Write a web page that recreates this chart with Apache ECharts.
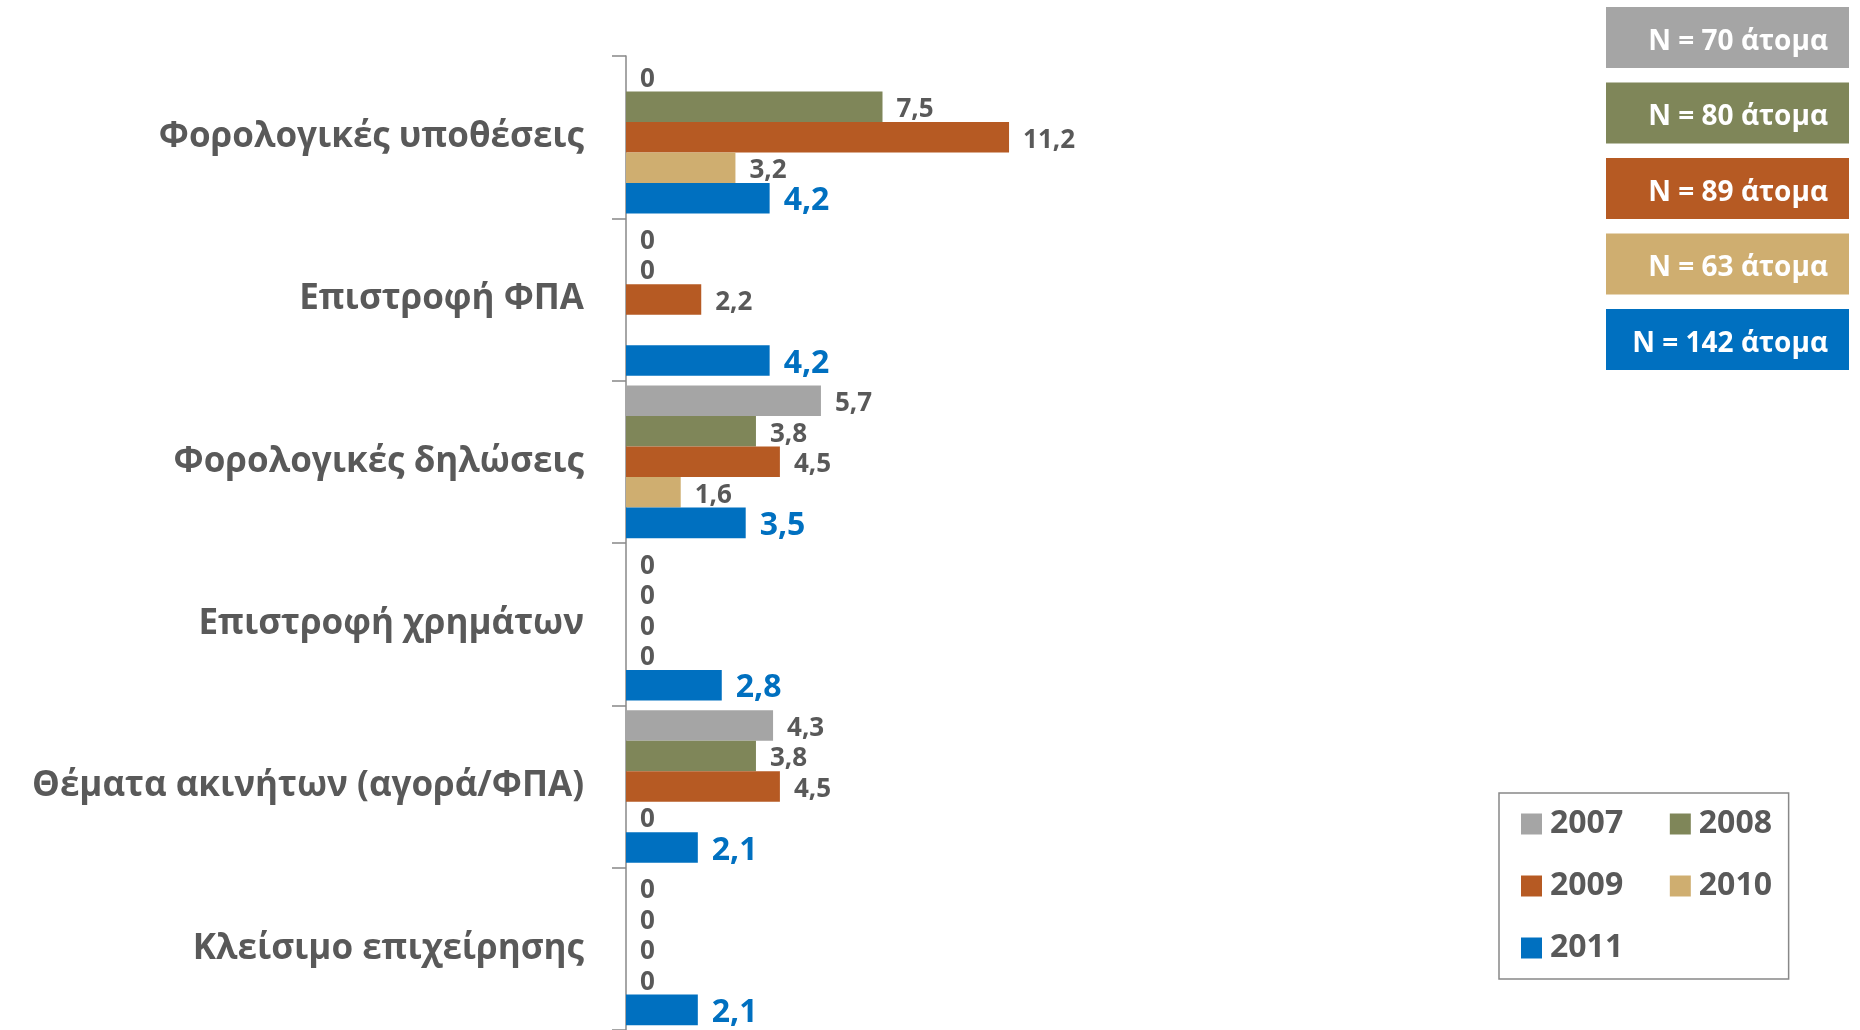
<!DOCTYPE html>
<html>
<head>
<meta charset="utf-8">
<script src="https://cdn.jsdelivr.net/npm/echarts@6/dist/echarts.min.js"></script>
<style>
  html, body { margin: 0; padding: 0; background: #fff; }
  #chart { width: 1860px; height: 1030px; }
</style>
</head>
<body>
<div id="chart"></div>
<script>
// κατηγορίες (από πάνω προς τα κάτω)
const categories = [
    'Φορολογικές υποθέσεις',
    'Επιστροφή ΦΠΑ',
    'Φορολογικές δηλώσεις',
    'Επιστροφή χρημάτων',
    'Θέματα ακινήτων (αγορά/ΦΠΑ)',
    'Κλείσιμο επιχείρησης'
];
const years = ['2007', '2008', '2009', '2010', '2011'];
const v2007 = [0, 0, 5.7, 0, 4.3, 0];
const v2008 = [7.5, 0, 3.8, 0, 3.8, 0];
const v2009 = [11.2, 2.2, 4.5, 0, 4.5, 0];
const v2010 = [3.2, '-', 1.6, 0, 0, 0];
const v2011 = [4.2, 4.2, 3.5, 2.8, 2.1, 2.1];
const sampleNotes = ['N = 70 άτομα', 'N = 80 άτομα', 'N = 89 άτομα', 'N = 63 άτομα', 'N = 142 άτομα'];

const colors = ['#A5A5A5', '#7F8659', '#B65A23', '#CFAE70', '#0070C0'];
const values = [v2007, v2008, v2009, v2010, v2011];
const FONT = '"Open Sans", "Noto Sans", sans-serif';

const chart = echarts.init(document.getElementById('chart'));

const series = years.map(function (y, i) {
    const isLast = i === years.length - 1;
    return {
        name: y,
        type: 'bar',
        data: values[i],
        barGap: '0%',
        barCategoryGap: '6%',
        itemStyle: { color: colors[i] },
        label: {
            show: true,
            position: 'right',
            distance: 14,
            offset: [0, 3],
            fontFamily: FONT,
            fontWeight: 'bold',
            fontSize: isLast ? 32 : 26,
            color: isLast ? '#0070C0' : '#595959',
            formatter: function (p) { return String(p.value).replace('.', ','); }
        }
    };
});

// κουτιά με το πλήθος ατόμων πάνω δεξιά
const graphics = [];
sampleNotes.forEach(function (t, i) {
    const top = 7 + i * 75.5;
    graphics.push({
        type: 'rect',
        shape: { x: 1606, y: top, width: 243, height: 61 },
        style: { fill: colors[i] }
    });
    graphics.push({
        type: 'text',
        x: 1828,
        y: top + 35,
        style: {
            text: t,
            fill: '#fff',
            font: 'bold 28px ' + FONT,
            align: 'right',
            verticalAlign: 'middle'
        }
    });
});

chart.setOption({
    animation: false,
    color: colors,
    grid: { left: 626, top: 56, width: 684, height: 980 },
    xAxis: {
        type: 'value',
        min: 0,
        max: 20,
        show: false
    },
    yAxis: {
        type: 'category',
        data: categories,
        inverse: true,
        axisLine: { show: true, lineStyle: { color: '#888', width: 1.5 } },
        axisTick: { show: true, inside: false, length: 14, lineStyle: { color: '#888', width: 1.5 } },
        axisLabel: {
            margin: 42,
            fontFamily: FONT,
            fontWeight: 'bold',
            fontSize: 35,
            color: '#595959'
        }
    },
    legend: {
        data: years,
        left: 1499,
        top: 793,
        width: 280,
        orient: 'horizontal',
        icon: 'rect',
        itemWidth: 21,
        itemHeight: 21,
        itemGap: 30,
        padding: [15, 0, 15, 22],
        borderColor: '#888',
        borderWidth: 1.5,
        formatter: function (name) { return name + '  '; },
        textStyle: {
            fontFamily: FONT,
            fontWeight: 'bold',
            fontSize: 32,
            color: '#595959',
            padding: [0, 0, 0, 3]
        }
    },
    graphic: graphics,
    series: series
});
</script>
</body>
</html>
